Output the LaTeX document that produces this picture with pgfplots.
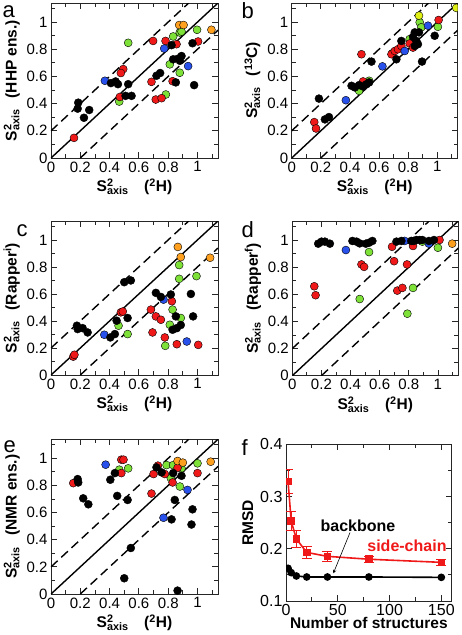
\documentclass[border=0pt]{standalone}
\usepackage{fontspec}
\setmainfont{Liberation Sans}
\usepackage{pgfplots}
\pgfplotsset{compat=1.18}
\definecolor{cred}{RGB}{240,25,25}
\definecolor{cgreen}{RGB}{125,225,55}
\definecolor{cblue}{RGB}{40,80,235}
\definecolor{corange}{RGB}{255,160,30}
\definecolor{cyellow}{RGB}{225,240,20}
\newcommand{\Sax}{S\rlap{\textsuperscript{2}}\textsubscript{axis}}
\pgfplotsset{
  base/.style={
    scale only axis, clip marker paths=true,
    tick align=inside,
    axis line style={line width=0.8pt, black!85},
    every tick/.style={black!85, line width=0.8pt},
    major tick length=6pt, minor tick length=4pt,
    tick label style={font=\fontsize{15}{15}\selectfont},
    label style={font=\bfseries\fontsize{15.5}{16}\selectfont},
  },
  scat/.style={base, anchor=south west, width=167pt, height=155pt,
    xmin=0,xmax=1.14,ymin=0,ymax=1.14,
    xtick={0,0.2,0.4,0.6,0.8,1}, ytick={0,0.2,0.4,0.6,0.8,1},
    xticklabels={0,0.2,0.4,0.6,0.8,1}, yticklabels={0,0.2,0.4,0.6,0.8,1},
    minor xtick={0.1,0.3,0.5,0.7,0.9,1.1}, minor ytick={0.1,0.3,0.5,0.7,0.9,1.1},
    xlabel={\Sax\hspace{1em}(\textsuperscript{2}H)},
  },
  dot/.style={only marks, mark=*, mark size=4pt, mark options={draw=none, fill=#1}},
  diag/.style={black, line width=1.4pt, no marks},
  ddiag/.style={black, line width=1.4pt, no marks, dash pattern=on 9pt off 5pt},
}
\newcommand{\diagonals}{%
  \addplot[diag] coordinates {(0,0) (1.14,1.14)};
  \addplot[ddiag] coordinates {(0,0.2) (0.94,1.14)};
  \addplot[ddiag] coordinates {(0.2,0) (1.14,0.94)};
}
\begin{document}
\begin{tikzpicture}
\useasboundingbox (0pt,0pt) rectangle (461pt,-635pt);
% ---------- a ----------
\begin{axis}[scat, at={(51pt,-158pt)}, ylabel={\Sax\hspace{0.7em}(HHP ens.)}]
\diagonals
\addplot[dot=cgreen] coordinates {(0.527,0.847) (0.466,0.415) (0.784,0.467) (0.834,0.894) (0.811,0.689) (0.879,0.923) (0.891,0.93) (0.879,0.627) (0.997,0.943)};
\addplot[dot=cred] coordinates {(0.157,0.148) (0.493,0.654) (0.477,0.625) (0.47,0.449) (0.697,0.861) (0.686,0.56) (0.715,0.43) (0.755,0.44) (0.782,0.861) (0.83,0.565) (0.857,0.837) (1.004,0.857)};
\addplot[dot=cblue] coordinates {(0.368,0.568) (0.773,0.805) (0.936,0.676)};
\addplot[dot=corange] coordinates {(0.875,0.978) (0.905,0.978) (1.095,0.943)};
\addplot[dot=black] coordinates {(0.186,0.407) (0.182,0.363) (0.261,0.353) (0.225,0.296) (0.409,0.551) (0.441,0.563) (0.457,0.543) (0.527,0.543) (0.509,0.457) (0.55,0.457) (0.72,0.605) (0.745,0.625) (0.823,0.83) (0.834,0.726) (0.852,0.556) (0.868,0.731) (0.891,0.75) (0.88,0.715) (0.966,0.844) (0.977,0.536)};
\end{axis}
% ---------- b ----------
\begin{axis}[scat, at={(291.7pt,-158pt)}, width=166pt, ylabel={\Sax\hspace{0.7em}(\textsuperscript{13}C)}]
\diagonals
\addplot[dot=cgreen] coordinates {(0.463,0.494) (0.532,0.568) (0.69,0.77) (0.81,0.874) (0.879,0.998) (0.89,0.961) (1.004,0.965)};
\addplot[dot=cred] coordinates {(0.155,0.264) (0.167,0.217) (0.479,0.763) (0.49,0.563) (0.685,0.763) (0.708,0.787) (0.73,0.8) (0.753,0.824) (0.81,0.842) (0.833,0.812) (1.009,1.015)};
\addplot[dot=cblue] coordinates {(0.372,0.425) (0.623,0.674) (0.776,0.787) (0.936,0.973)};
\addplot[dot=cyellow] coordinates {(0.874,1.047) (1.13,1.104)};
\addplot[dot=black] coordinates {(0.187,0.437) (0.228,0.284) (0.256,0.301) (0.411,0.531) (0.434,0.519) (0.463,0.536) (0.49,0.526) (0.514,0.543) (0.532,0.556) (0.548,0.709) (0.719,0.726) (0.753,0.861) (0.833,0.891) (0.845,0.924) (0.874,0.924) (0.856,0.861) (0.845,0.824) (0.867,0.837) (0.895,0.709) (0.982,0.899)};
\end{axis}
% ---------- c ----------
\begin{axis}[scat, at={(51pt,-375pt)}, height=154pt, ylabel={\Sax\hspace{0.7em}(Rapper\textsuperscript{i})}]
\diagonals
\addplot[dot=cgreen] coordinates {(0.461,0.365) (0.523,0.303) (0.78,0.216) (0.811,0.372) (0.83,0.484) (0.875,0.814) (0.875,0.712) (0.886,0.422) (0.993,0.732)};
\addplot[dot=cred] coordinates {(0.152,0.136) (0.16,0.15) (0.477,0.464) (0.49,0.47) (0.682,0.484) (0.693,0.315) (0.716,0.434) (0.75,0.409) (0.777,0.278) (0.825,0.546) (0.859,0.228) (1.005,0.223)};
\addplot[dot=cblue] coordinates {(0.364,0.298) (0.768,0.558) (0.927,0.248)};
\addplot[dot=corange] coordinates {(0.866,0.948) (0.886,0.873) (1.086,0.868)};
\addplot[dot=black] coordinates {(0.177,0.365) (0.182,0.34) (0.216,0.347) (0.25,0.315) (0.405,0.278) (0.436,0.303) (0.448,0.402) (0.5,0.687) (0.545,0.7) (0.523,0.422) (0.716,0.608) (0.75,0.578) (0.818,0.596) (0.83,0.335) (0.852,0.434) (0.859,0.347) (0.886,0.37) (0.955,0.6) (0.97,0.434)};
\end{axis}
% ---------- d ----------
\begin{axis}[scat, at={(292.3pt,-375.7pt)}, width=166pt, height=154.7pt, ylabel={\Sax\hspace{0.7em}(Rapper\textsuperscript{f})}]
\diagonals
\addplot[dot=cgreen] coordinates {(0.527,0.911) (0.463,0.565) (0.79,0.457) (0.829,0.647) (1.0,0.943) (0.893,0.988)};
\addplot[dot=cred] coordinates {(0.151,0.659) (0.16,0.593) (0.475,0.82) (0.493,0.802) (0.685,0.95) (0.699,0.844) (0.721,0.627) (0.756,0.647) (0.788,0.82) (0.829,0.956) (1.011,1.0)};
\addplot[dot=cblue] coordinates {(0.368,0.926) (0.772,0.993) (0.938,0.973)};
\addplot[dot=corange] coordinates {(1.098,0.973)};
\addplot[dot=black] coordinates {(0.178,0.973) (0.201,0.988) (0.224,0.988) (0.258,0.973) (0.413,0.993) (0.441,0.988) (0.463,0.975) (0.505,0.973) (0.527,0.98) (0.55,0.993) (0.715,0.988) (0.749,0.993) (0.817,0.993) (0.834,0.993) (0.852,1.0) (0.875,1.0) (0.893,1.0) (0.938,0.993) (0.973,1.0)};
\end{axis}
% ---------- e ----------
\begin{axis}[scat, at={(51pt,-594pt)}, height=154.7pt, ylabel={\Sax\hspace{0.7em}(NMR ens.)}]
\diagonals
\addplot[dot=cgreen] coordinates {(0.466,0.916) (0.527,0.926) (0.789,0.95) (0.834,0.95) (0.818,0.854) (0.88,0.792) (0.891,0.926) (1.0,0.963)};
\addplot[dot=cred] coordinates {(0.152,0.817) (0.48,0.99) (0.495,0.99) (0.48,0.891) (0.686,0.74) (0.7,0.884) (0.73,0.946) (0.777,0.884) (0.83,0.822) (0.864,0.93) (1.0,0.891)};
\addplot[dot=cblue] coordinates {(0.373,0.953) (0.768,0.562) (0.932,0.767)};
\addplot[dot=corange] coordinates {(0.864,0.98) (0.9,0.968) (1.09,0.975)};
\addplot[dot=black] coordinates {(0.182,0.847) (0.186,0.822) (0.22,0.705) (0.255,0.661) (0.405,0.842) (0.436,0.891) (0.452,0.723) (0.523,0.693) (0.545,0.339) (0.5,0.116) (0.72,0.933) (0.755,0.896) (0.834,0.891) (0.823,0.55) (0.845,0.693) (0.864,0.025) (0.891,0.871) (0.966,0.624) (0.959,0.512)};
\end{axis}
% ---------- f ----------
\begin{axis}[base, anchor=south west, at={(286pt,-601pt)}, width=165.7pt, height=156.7pt,
  xmin=0, xmax=160, ymin=0.1, ymax=0.4,
  xtick={0,50,100,150}, xticklabels={0,50,100,150}, minor xtick={25,75,125},
  ytick={0.1,0.2,0.3,0.4}, yticklabels={0.1,0.2,0.3,0.4}, minor ytick={0.15,0.25,0.35},
  tick label style={font=\fontsize{16}{16}\selectfont},
  xlabel style={yshift=5pt},
  xlabel={Number of structures}, ylabel={RMSD}]
\addplot[black, line width=1.6pt, mark=*, mark size=3pt] coordinates {(2,0.1626) (5,0.1543) (10,0.1479) (20,0.146) (40,0.146) (80,0.146) (150,0.1453)};
\addplot[cred, line width=1.6pt, mark=square*, mark size=3pt,
  error bars/.cd, y dir=both, y explicit,
  error bar style={cred, line width=0.9pt},
  error mark options={cred, line width=0.9pt, mark size=5pt, rotate=90}]
  coordinates {(2,0.3285) +- (0,0.023) (5,0.253) +- (0,0.018) (10,0.219) +- (0,0.017) (20,0.193) +- (0,0.012) (40,0.1855) +- (0,0.01) (80,0.18) +- (0,0.006) (150,0.174) +- (0,0.006)};
\node[font=\bfseries\fontsize{16}{16}\selectfont, black] at (axis cs:69.5,0.2435) {backbone};
\node[font=\bfseries\fontsize{16}{16}\selectfont, cred] at (axis cs:116.8,0.205) {side-chain};
\draw[-stealth, black, line width=0.6pt] (axis cs:61.8,0.231) -- (axis cs:45.7,0.153);
\end{axis}
% ---------- panel letters ----------
\node[anchor=base west, font=\fontsize{22}{22}\selectfont] at (-1pt,-17pt) {a};
\node[anchor=base west, font=\fontsize{22}{22}\selectfont] at (238pt,-18pt) {b};
\node[anchor=base west, font=\fontsize{22}{22}\selectfont] at (13pt,-236pt) {c};
\node[anchor=base west, font=\fontsize{22}{22}\selectfont] at (238pt,-237pt) {d};
\node[anchor=base west, font=\fontsize{22}{22}\selectfont] at (0pt,-452pt) {e};
\node[anchor=base west, font=\fontsize{22}{22}\selectfont] at (238pt,-455pt) {f};
\end{tikzpicture}
\end{document}
